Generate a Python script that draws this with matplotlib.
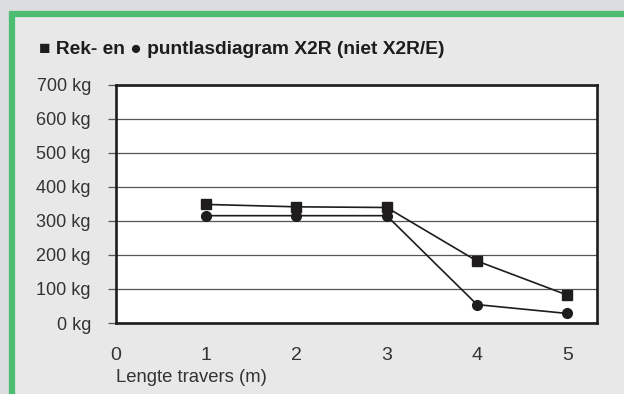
import matplotlib
matplotlib.use('Agg')
from matplotlib import pyplot as plt
from matplotlib.patches import Rectangle

plt.rcParams['font.family'] = ['Liberation Sans', 'DejaVu Sans']

# lengte travers (m) and load (kg)
lengte = [1, 2, 3, 4, 5]
rek_kg = [348, 341, 339, 182, 82]
punt_kg = [315, 315, 315, 54, 28]
yticks = [0, 100, 200, 300, 400, 500, 600, 700]
xticks = [0, 1, 2, 3, 4, 5]

fig = plt.figure(figsize=(6.24, 3.94), dpi=100)
fig.patch.set_facecolor('#dcdddf')

# green framed panel (cut off at right and bottom)
frame = Rectangle((12/624, -0.1), 1.0, 1 - 14/394 + 0.1,
                  transform=fig.transFigure, facecolor='#e8e8e8',
                  edgecolor='#4dbd72', linewidth=4.5, zorder=-10)
fig.add_artist(frame)

ax = fig.add_axes([116/624, 1 - 323/394, 481/624, 238.5/394])
ax.set_facecolor('w')
ax.set_axisbelow(True)

ax.plot(lengte, rek_kg, color='#1e1c1c', linewidth=1.2, marker='s',
        markersize=7.5, zorder=3)
ax.plot(lengte, punt_kg, color='#1e1c1c', linewidth=1.2, marker='o',
        markersize=7, zorder=3)

ax.set_xlim(0.03, 5.33)
ax.set_ylim(0, 700)
ax.set_yticks(yticks)
ax.set_yticklabels(['%d kg' % v for v in yticks])
ax.set_xticks(xticks)
ax.set_xticklabels([str(v) for v in xticks])
ax.grid(axis='y', color='#555555', linewidth=0.9)
ax.grid(axis='x', visible=False)

for s in ax.spines.values():
    s.set_color('#1e1c1c')
    s.set_linewidth(1.9)

ax.tick_params(axis='y', direction='out', length=6, width=0.9, color='#555555',
               labelsize=13, labelcolor='#333333', pad=12)
ax.tick_params(axis='x', length=0, labelsize=14, labelcolor='#333333', pad=17)

fig.text(116/624, 1 - 377/394, 'Lengte travers (m)', fontsize=13.3,
         color='#333333', ha='left', va='center')

fig.text(39/624, 1 - 49/394, '\u25a0 Rek- en \u25cf puntlasdiagram X2R (niet X2R/E)',
         fontsize=13.8, fontweight='bold', color='#1e1c1c', ha='left', va='center',
         family=['Liberation Sans', 'DejaVu Sans'])

plt.savefig('out.png', dpi=100, facecolor=fig.get_facecolor())
